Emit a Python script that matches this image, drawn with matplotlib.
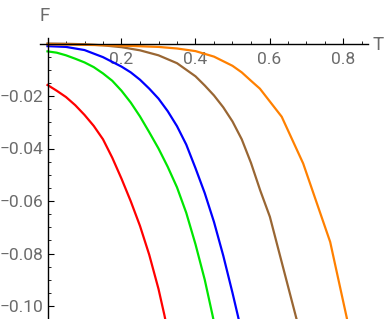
import matplotlib
matplotlib.use("Agg")
import matplotlib.pyplot as plt
from matplotlib.ticker import MultipleLocator, FixedLocator

# curves (T, F)
red_t = [0, 0.025, 0.05, 0.075, 0.1, 0.125, 0.15, 0.175, 0.2, 0.225, 0.25, 0.275, 0.3, 0.316, 0.33]
red_f = [-0.0158, -0.018, -0.0204, -0.0235, -0.0272, -0.0314, -0.0365, -0.0435, -0.0515,
         -0.0601, -0.0695, -0.0805, -0.0935, -0.1035, -0.113]

green_t = [0, 0.025, 0.05, 0.075, 0.1, 0.125, 0.15, 0.175, 0.2, 0.225, 0.25, 0.275, 0.3,
           0.325, 0.35, 0.375, 0.4, 0.425, 0.446, 0.46]
green_f = [-0.003, -0.0035, -0.0045, -0.0058, -0.0072, -0.009, -0.0114, -0.0142, -0.018,
           -0.0225, -0.0278, -0.0338, -0.04, -0.047, -0.0548, -0.0645, -0.0765, -0.09,
           -0.1035, -0.113]

blue_t = [0, 0.05, 0.1, 0.15, 0.2, 0.225, 0.25, 0.275, 0.3, 0.325, 0.35, 0.375, 0.4,
          0.425, 0.45, 0.475, 0.5, 0.515, 0.525]
blue_f = [-0.001, -0.0013, -0.0025, -0.0052, -0.0088, -0.011, -0.0138, -0.0172, -0.021,
          -0.0258, -0.0315, -0.0385, -0.0475, -0.057, -0.068, -0.0808, -0.095, -0.104, -0.11]

brown_t = [0, 0.05, 0.1, 0.15, 0.2, 0.25, 0.3, 0.35, 0.4, 0.425, 0.45, 0.475, 0.5, 0.525,
           0.55, 0.575, 0.601, 0.675]
brown_f = [0, -0.0001, -0.0003, -0.0007, -0.0014, -0.0026, -0.0045, -0.0075, -0.0125,
           -0.016, -0.0198, -0.0243, -0.0297, -0.0365, -0.0455, -0.056, -0.066, -0.106]

orange_t = [0, 0.1, 0.2, 0.3, 0.35, 0.4, 0.45, 0.5, 0.525, 0.55, 0.574, 0.633, 0.691,
            0.764, 0.809, 0.815]
orange_f = [-0.0003, -0.0005, -0.0008, -0.0013, -0.0019, -0.0029, -0.005, -0.0085, -0.011,
            -0.0142, -0.0172, -0.0279, -0.0457, -0.0756, -0.1046, -0.109]

x_ticks = [0.2, 0.4, 0.6, 0.8]
y_ticks = [-0.02, -0.04, -0.06, -0.08, -0.10]

W, H = 388, 319
fig = plt.figure(figsize=(W / 100, H / 100), dpi=100)

# axes box in pixels: left 40, right 368, top 38, bottom 319
x0, x1, y0, y1 = 40, 368, 38, 319
ax = fig.add_axes([x0 / W, 1 - y1 / H, (x1 - x0) / W, (y1 - y0) / H])
ax.patch.set_alpha(0)

# pixel -> data mapping: T=0 at px 47.5, 370 px per unit; F=0 at px 43.5, 2625 px per unit
ax.set_xlim((x0 - 47.5) / 370, (x1 - 47.5) / 370)
ax.set_ylim(-(y1 - 43.5) / 2625, (43.5 - y0) / 2625)

lw = 1.6
ax.plot(red_t, red_f, color="#ff0000", lw=lw)
ax.plot(green_t, green_f, color="#00e600", lw=lw)
ax.plot(blue_t, blue_f, color="#0000ff", lw=lw)
ax.plot(brown_t, brown_f, color="#996633", lw=lw)
ax.plot(orange_t, orange_f, color="#ff8000", lw=lw)

for s in ["top", "right"]:
    ax.spines[s].set_visible(False)
ax.spines["left"].set_position(("data", 0))
ax.spines["bottom"].set_position(("data", 0))
ax.spines["left"].set_linewidth(1.0)
ax.spines["bottom"].set_linewidth(1.0)

ax.xaxis.set_major_locator(FixedLocator(x_ticks))
ax.xaxis.set_minor_locator(MultipleLocator(0.05))
ax.yaxis.set_major_locator(FixedLocator(y_ticks))
ax.yaxis.set_minor_locator(MultipleLocator(0.005))
ax.set_xticklabels(["%.1f" % v for v in x_ticks])
ax.set_yticklabels(["\u2212%.2f" % abs(v) for v in y_ticks])

fam = ["Roboto", "DejaVu Sans"]
gray = "#6b6b6b"
ax.tick_params(which="major", direction="in", length=4.5, width=0.8, color="black")
ax.tick_params(which="minor", direction="in", length=2.5, width=0.6, color="black")
ax.tick_params(axis="x", which="major", pad=6, labelcolor=gray)
ax.tick_params(axis="y", which="major", pad=3, labelcolor=gray)
for lab in ax.get_xticklabels() + ax.get_yticklabels():
    lab.set_fontfamily(fam)
    lab.set_fontsize(12.5)

fig.text(45 / W, 1 - 16 / H, "F", ha="center", va="center", color=gray,
         fontsize=13.5, family=fam)
fig.text(378 / W, 1 - 45 / H, "T", ha="center", va="center", color=gray,
         fontsize=13.5, family=fam)

fig.savefig("out.png", dpi=100)
